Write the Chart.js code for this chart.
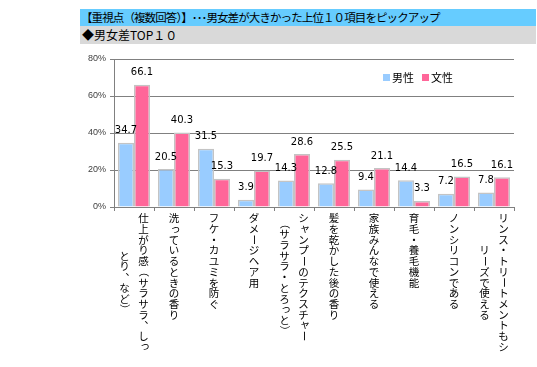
<!DOCTYPE html>
<html>
<head>
<meta charset="utf-8">
<script src="https://cdn.jsdelivr.net/npm/chart.js@4"></script>
<style>
  body { margin: 0; background: #fff; }
  #wrap { position: relative; width: 537px; height: 367px; }
  canvas { position: absolute; left: 0; top: 0; }
  .bar { position: absolute; left: 80px; width: 456px; font-family: "Noto Sans CJK JP", sans-serif; font-size: 12px; color: #000; white-space: nowrap; box-sizing: border-box; padding-left: 1px; }
  #title { top: 9px; height: 17px; line-height: 17px; background: #66CCFF; font-size: 11.5px; letter-spacing: -0.9px; }
  #sub { top: 26px; height: 18px; line-height: 18px; background: #D9D9D9; padding-left: 2px; }
</style>
</head>
<body>
<div id="wrap">
  <canvas id="c" width="537" height="367"></canvas>
  <div class="bar" id="title">【重視点（複数回答）】･･･男女差が大きかった上位１０項目をピックアップ</div>
  <div class="bar" id="sub">◆男女差TOP１０</div>
</div>
<script>
const categories = [
  ["仕上がり感（サラサラ、しっ", "とり、など）"],
  ["洗っているときの香り"],
  ["フケ・カユミを防ぐ"],
  ["ダメージヘア用"],
  ["シャンプーのテクスチャー", "（サラサラ・とろっと）"],
  ["髪を乾かした後の香り"],
  ["家族みんなで使える"],
  ["育毛・養毛機能"],
  ["ノンシリコンである"],
  ["リンス・トリートメントもシ", "リーズで使える"]
];
const male = [34.7, 20.5, 31.5, 3.9, 14.3, 12.8, 9.4, 14.4, 7.2, 7.8];
const female = [66.1, 40.3, 15.3, 19.7, 28.6, 25.5, 21.1, 3.3, 16.5, 16.1];
const seriesNames = ["男性", "文性"];
const yTicks = [0, 20, 40, 60, 80];

const ROTATE = "ー（）～－";
const SMALL = "ぁぃぅぇぉっゃゅょァィゥェォッャュョ";

// vertical (upright) category labels under the x axis
const verticalLabels = {
  id: 'verticalLabels',
  afterDraw(chart) {
    const ctx = chart.ctx;
    const xs = chart.scales.x;
    const step = 10.7;
    ctx.save();
    ctx.font = '10.5px "Noto Sans CJK JP"';
    ctx.fillStyle = '#000';
    ctx.textAlign = 'center';
    ctx.textBaseline = 'middle';
    categories.forEach((lines, i) => {
      const x = xs.getPixelForValue(i);
      const n = lines.length;
      const maxLen = Math.max(...lines.map(l => Array.from(l).length));
      lines.forEach((line, j) => {
        const chars = Array.from(line);
        const colX = x + ((n - 1) / 2 - j) * 19;
        let y = xs.bottom + 2 + (maxLen - chars.length) / 2 * step;
        chars.forEach(ch => {
          const cy = y + step / 2;
          if (ROTATE.includes(ch)) {
            ctx.save();
            ctx.translate(colX, cy);
            ctx.rotate(Math.PI / 2);
            ctx.fillText(ch, 0, 0);
            ctx.restore();
          } else if (ch === '、') {
            ctx.fillText(ch, colX + 6, cy - 6);
          } else if (SMALL.includes(ch)) {
            ctx.fillText(ch, colX + 1.5, cy - 1.5);
          } else {
            ctx.fillText(ch, colX, cy);
          }
          y += step;
        });
      });
    });
    ctx.restore();
  }
};

// value labels above bars + legend
const extras = {
  id: 'extras',
  afterDatasetsDraw(chart) {
    const ctx = chart.ctx;
    ctx.save();
    ctx.font = '10px "DejaVu Sans"';
    ctx.fillStyle = '#000';
    ctx.textAlign = 'center';
    ctx.textBaseline = 'middle';
    chart.data.datasets.forEach((ds, d) => {
      chart.getDatasetMeta(d).data.forEach((bar, i) => {
        ctx.fillText(ds.data[i].toFixed(1), bar.x, bar.y - 12);
      });
    });
    // legend
    ctx.font = '11px "Noto Sans CJK JP"';
    ctx.textAlign = 'left';
    const lx = [383, 422];
    chart.data.datasets.forEach((ds, d) => {
      ctx.fillStyle = ds.backgroundColor;
      ctx.fillRect(lx[d], 74, 7, 7);
      ctx.fillStyle = '#000';
      ctx.fillText(ds.label, lx[d] + 9, 78);
    });
    ctx.restore();
  }
};

new Chart(document.getElementById('c'), {
  type: 'bar',
  data: {
    labels: categories.map(c => c.join('')),
    datasets: [
      { label: seriesNames[0], data: male, backgroundColor: '#99CCFF', borderColor: '#C4C4C4', borderWidth: 1.5 },
      { label: seriesNames[1], data: female, backgroundColor: '#FF6699', borderColor: '#C4C4C4', borderWidth: 1.5 }
    ]
  },
  options: {
    responsive: false,
    animation: false,
    layout: { padding: { left: 0, top: 59, right: 23, bottom: 156 } },
    categoryPercentage: 0.8,
    barPercentage: 1.0,
    plugins: { legend: { display: false }, tooltip: { enabled: false } },
    scales: {
      x: {
        offset: true,
        ticks: { display: false },
        grid: { drawOnChartArea: false, tickLength: 4, color: '#808080' },
        border: { color: '#808080' },
        afterFit(s) { s.height = 4; }
      },
      y: {
        min: 0,
        max: 80,
        afterBuildTicks(s) { s.ticks = yTicks.map(v => ({ value: v })); },
        ticks: {
          callback: v => v + '%',
          font: { family: 'Liberation Sans', size: 9 },
          color: '#404040',
          padding: 4
        },
        grid: { color: '#808080', tickLength: 4 },
        border: { color: '#808080' },
        afterFit(s) { s.width = 114; }
      }
    }
  },
  plugins: [verticalLabels, extras]
});
</script>
</body>
</html>
